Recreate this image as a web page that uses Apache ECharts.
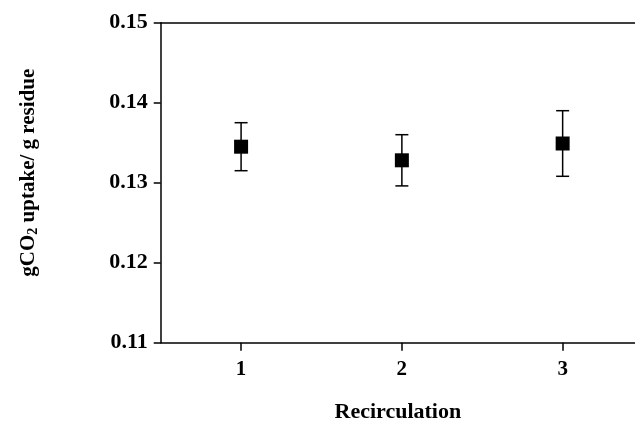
<!DOCTYPE html>
<html>
<head>
<meta charset="utf-8">
<script src="https://cdn.jsdelivr.net/npm/echarts@6/dist/echarts.min.js"></script>
<style>
  html, body { margin: 0; padding: 0; background: #fff; }
  #echart { width: 635px; height: 421px; }
</style>
</head>
<body>
<div id="echart"></div>
<script type="text/javascript">
    // Recirculation runs
    var runs = [1, 2, 3];
    var uptake = [0.1345, 0.1328, 0.1349];
    var errLow = [0.1315, 0.1296, 0.1308];
    var errHigh = [0.1375, 0.1360, 0.1390];
    var yTicks = [0.11, 0.12, 0.13, 0.14, 0.15];

    var font = 'Liberation Serif';
    var myChart = echarts.init(document.getElementById('echart'));

    var points = runs.map(function (r, i) { return [r, uptake[i]]; });
    var bars = runs.map(function (r, i) { return [r, errLow[i], errHigh[i]]; });

    option = {
        animation: false,
        grid: { left: 160.7, right: 0, top: 22.7, bottom: 78.3, containLabel: false, outerBoundsMode: 'none' },
        xAxis: [{
            type: 'value',
            min: 0.5,
            max: 3.45,
            name: 'Recirculation',
            nameLocation: 'middle',
            nameGap: 59,
            nameTextStyle: { fontFamily: font, fontWeight: 'bold', fontSize: 22, color: '#000' },
            axisLine: { lineStyle: { color: '#000', width: 1.5 } },
            axisTick: { show: true, length: 8, inside: false, customValues: runs, lineStyle: { color: '#000', width: 1.5 } },
            axisLabel: { customValues: runs, margin: 16, fontFamily: font, fontWeight: 'bold', fontSize: 21, color: '#000' },
            splitLine: { show: false }
        }, {
            // top frame line
            type: 'value',
            position: 'top',
            min: 0.5,
            max: 3.45,
            axisLine: { show: true, lineStyle: { color: '#000', width: 1.5 } },
            axisTick: { show: false },
            axisLabel: { show: false },
            splitLine: { show: false }
        }],
        yAxis: {
            type: 'value',
            min: yTicks[0],
            max: yTicks[yTicks.length - 1],
            interval: 0.01,
            name: 'gCO{sub|2} uptake/ g residue',
            nameLocation: 'middle',
            nameGap: 120,
            nameRotate: 90,
            nameTextStyle: {
                fontFamily: font, fontWeight: 'bold', fontSize: 21, color: '#000',
                padding: [0, 0, 0, 20],
                rich: {
                    sub: { fontFamily: font, fontWeight: 'bold', fontSize: 14, color: '#000', verticalAlign: 'bottom', padding: [11, 0, 0, 0] }
                }
            },
            axisLine: { show: true, lineStyle: { color: '#000', width: 1.5 } },
            axisTick: { show: true, length: 7, lineStyle: { color: '#000', width: 1.5 } },
            axisLabel: {
                margin: 13, fontFamily: font, fontWeight: 'bold', fontSize: 22, color: '#000',
                formatter: function (v) { return v.toFixed(2); }
            },
            splitLine: { show: false }
        },
        series: [{
            type: 'custom',
            name: 'error',
            data: bars,
            renderItem: function (params, api) {
                var x = api.value(0);
                var lo = api.coord([x, api.value(1)]);
                var hi = api.coord([x, api.value(2)]);
                var half = 6.5;
                var style = { stroke: '#000', lineWidth: 1.5 };
                return {
                    type: 'group',
                    children: [
                        { type: 'line', shape: { x1: lo[0], y1: lo[1], x2: hi[0], y2: hi[1] }, style: style },
                        { type: 'line', shape: { x1: lo[0] - half, y1: lo[1], x2: lo[0] + half, y2: lo[1] }, style: style },
                        { type: 'line', shape: { x1: hi[0] - half, y1: hi[1], x2: hi[0] + half, y2: hi[1] }, style: style }
                    ]
                };
            },
            z: 2
        }, {
            type: 'scatter',
            name: 'uptake',
            data: points,
            symbol: 'rect',
            symbolSize: 14,
            itemStyle: { color: '#000', opacity: 1 },
            z: 3
        }]
    };
    myChart.setOption(option);
</script>
</body>
</html>
